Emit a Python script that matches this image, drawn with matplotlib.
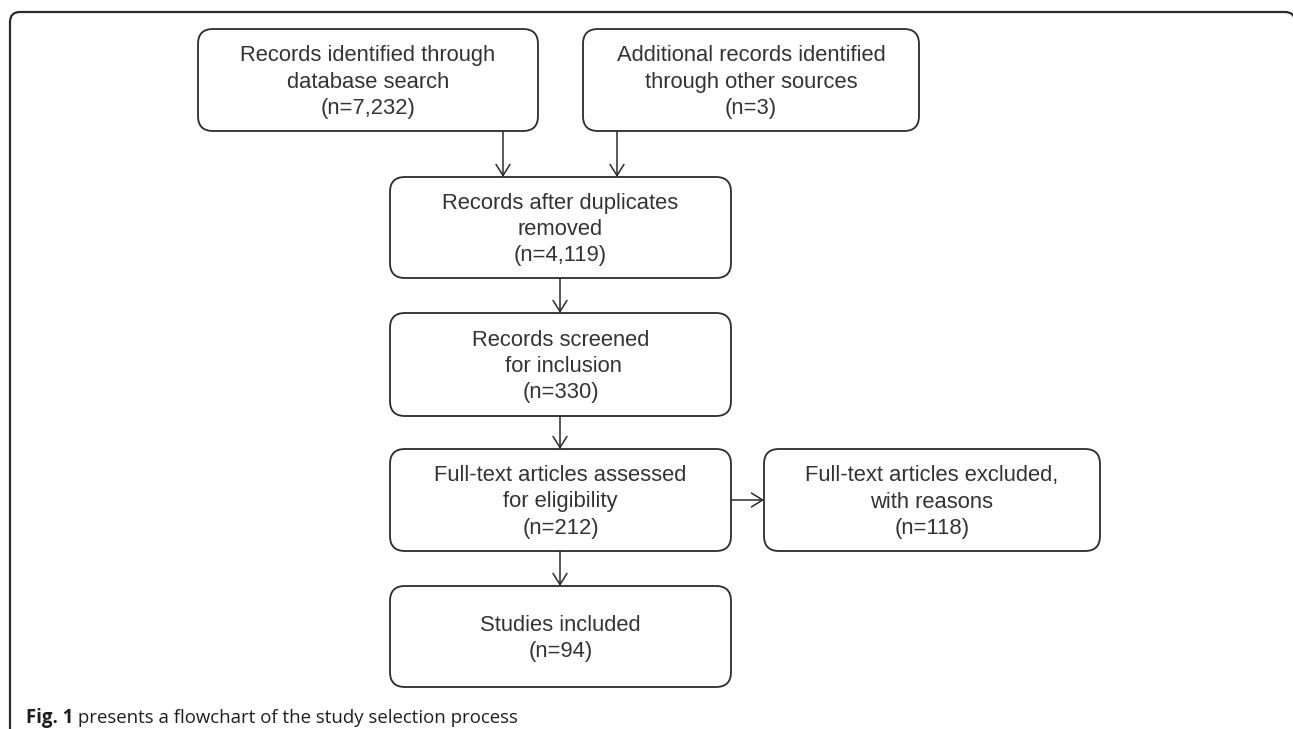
import matplotlib
matplotlib.use("Agg")
import matplotlib.pyplot as plt
import matplotlib.transforms as mtrans
from matplotlib.patches import FancyBboxPatch

W, H = 1293, 729

# ---- content ----
box_labels = [
    "Records identified through\ndatabase search\n(n=7,232)",
    "Additional records identified\nthrough other sources\n(n=3)",
    "Records after duplicates\nremoved\n(n=4,119)",
    "Records screened\n for inclusion\n(n=330)",
    "Full-text articles assessed\nfor eligibility\n(n=212)",
    "Full-text articles excluded,\nwith reasons\n(n=118)",
    "Studies included\n(n=94)",
]
caption_bold = "Fig. 1"
caption_rest = " presents a flowchart of the study selection process"

# ---- layout (pixel coords: left, top, right, bottom) ----
layout = [
    (198, 29, 538, 131),
    (583, 29, 919, 131),
    (390, 177, 731, 278),
    (390, 313, 731, 416),
    (390, 449, 731, 551),
    (764, 449, 1100, 551),
    (390, 586, 731, 687),
]
# arrows: (x0, y0, x1, y1)
arrows = [
    (503, 131, 503, 177),
    (617, 131, 617, 177),
    (560, 278, 560, 313),
    (560, 416, 560, 449),
    (731, 500, 764, 500),
    (560, 551, 560, 586),
]

line_col = "#2b2b2b"
text_col = "#333333"

fig = plt.figure(figsize=(W / 100, H / 100), dpi=100)
ax = fig.add_axes([0, 0, 1, 1])
ax.set_xlim(0, W)
ax.set_ylim(H, 0)
ax.axis("off")

# outer frame (open at bottom, right edge at the image border)
frame = FancyBboxPatch((10, 12), 1285, 800,
                       boxstyle="round,pad=0,rounding_size=10",
                       fc="white", ec=line_col, lw=1.6, zorder=0)
ax.add_patch(frame)

for (l, t, r, b), lab in zip(layout, box_labels):
    p = FancyBboxPatch((l, t), r - l, b - t,
                       boxstyle="round,pad=0,rounding_size=15",
                       fc="white", ec=line_col, lw=1.3, zorder=2)
    ax.add_patch(p)
    ax.text((l + r) / 2, (t + b) / 2 + 2, lab, ha="center", va="center",
            family="Liberation Sans", fontsize=15.8, color=text_col,
            linespacing=1.32, zorder=3)

for x0, y0, x1, y1 in arrows:
    ax.annotate("", xy=(x1, y1), xytext=(x0, y0),
                arrowprops=dict(arrowstyle="->,head_length=0.8,head_width=0.5",
                                color=line_col, lw=1.1,
                                shrinkA=0, shrinkB=0), zorder=1)

cap_y = 718
t1 = ax.text(26, cap_y, caption_bold, ha="left", va="center",
             family="Open Sans", fontweight="bold", fontsize=13.4, color="#1e1e1e")
fig.canvas.draw()
bb = t1.get_window_extent()
ax.text(bb.x1, cap_y, caption_rest, ha="left", va="center",
        family="Open Sans", fontsize=13.4, color="#1e1e1e",
        transform=mtrans.blended_transform_factory(
            mtrans.IdentityTransform(), ax.transData))

fig.savefig("out.png", dpi=100)
